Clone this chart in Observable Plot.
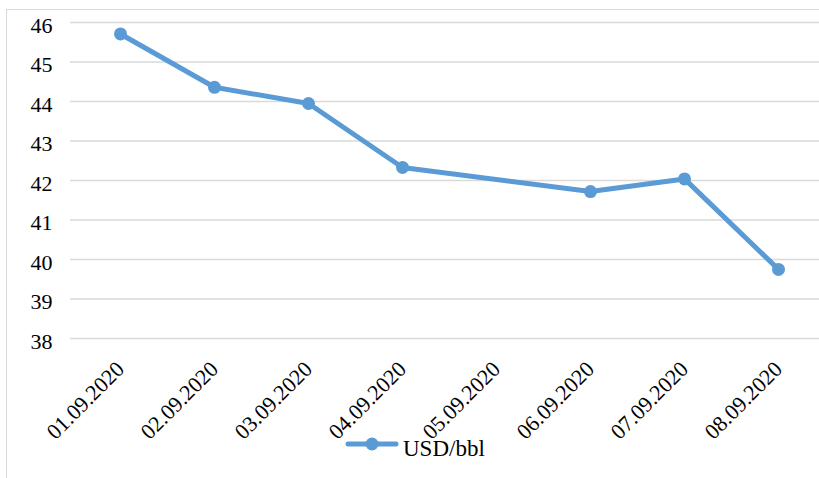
<!DOCTYPE html>
<html><head><meta charset="utf-8">
<script src="https://cdn.jsdelivr.net/npm/d3@7"></script>
<script src="https://cdn.jsdelivr.net/npm/@observablehq/plot@0.6"></script>
<style>
body{margin:0;background:#fff;width:819px;height:478px;overflow:hidden;position:relative;font-family:"Liberation Serif","Times New Roman",serif;}
#frame{position:absolute;left:6px;top:9px;width:900px;height:600px;border:1px solid #d9d9d9;box-sizing:border-box;}
#chart{position:absolute;left:0;top:0;}
#legend-key{position:absolute;left:344px;top:434px;}
#legend-text{position:absolute;left:403px;top:437px;font-size:23px;line-height:23px;color:#000;white-space:nowrap;}
</style></head><body>
<div id="frame"></div>
<div id="chart"></div>
<svg id="legend-key" width="56" height="20"><line x1="4" x2="52" y1="10" y2="10" stroke="#5B9BD5" stroke-width="5" stroke-linecap="round"/><circle cx="28" cy="10" r="6.5" fill="#5B9BD5"/></svg>
<div id="legend-text">USD/bbl</div>
<script>
const dates = ["01.09.2020","02.09.2020","03.09.2020","04.09.2020","05.09.2020","06.09.2020","07.09.2020","08.09.2020"];
const prices = [45.71, 44.36, 43.95, 42.33, null, 41.72, 42.04, 39.75];
const yTicks = [38, 39, 40, 41, 42, 43, 44, 45, 46];

const data = dates.map((d, i) => ({date: d, price: prices[i]})).filter(d => d.price != null);

const chart = Plot.plot({
  width: 819,
  height: 478,
  marginTop: 22,
  marginBottom: 140,
  marginLeft: 70,
  marginRight: 0,
  style: {fontFamily: "\"Liberation Serif\", \"Times New Roman\", serif", fontSize: "22px", color: "#000", background: "transparent", overflow: "visible"},
  x: {type: "point", domain: dates, range: [119.3, 778], padding: 0, label: null},
  y: {domain: [38, 46], label: null},
  marks: [
    Plot.gridY(yTicks, {stroke: "#d9d9d9", strokeOpacity: 1, strokeWidth: 1.5}),
    Plot.axisY(yTicks, {tickSize: 0, tickPadding: 18, dy: 3, fontSize: 22, fill: "#000", label: null}),
    Plot.axisX({tickSize: 0, tickRotate: -45, textAnchor: "end", lineAnchor: "middle", tickPadding: 27, dx: 0, fontSize: 22, fill: "#000", label: null}),
    Plot.line(data, {x: "date", y: "price", stroke: "#5B9BD5", strokeWidth: 5, strokeLinejoin: "round", strokeLinecap: "round"}),
    Plot.dot(data, {x: "date", y: "price", r: 6.5, fill: "#5B9BD5", stroke: "none"})
  ]
});
document.getElementById("chart").appendChild(chart);
</script>
</body></html>
